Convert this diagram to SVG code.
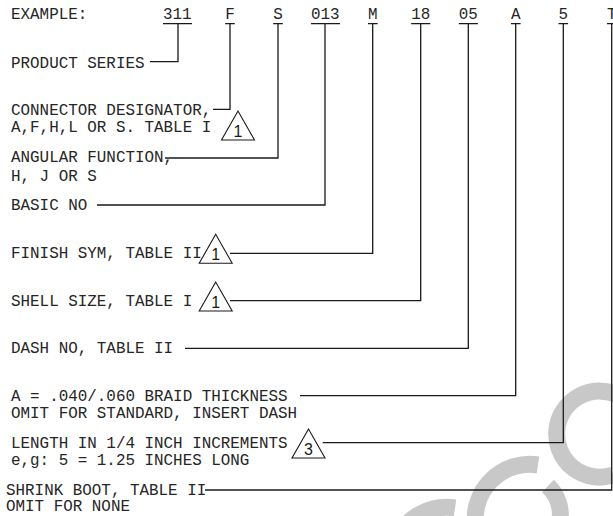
<svg xmlns="http://www.w3.org/2000/svg" width="613" height="516" viewBox="0 0 613 516">
<style>
.t{font-family:"Liberation Mono","DejaVu Sans Mono",monospace;font-size:15.9px;fill:#262626}
.n{font-family:"Liberation Sans",Arial,sans-serif;font-size:16px;fill:#1a1a1a;text-anchor:middle}
.ln{fill:none;stroke:#1a1a1a;stroke-width:1.3}
.tri{fill:#fff;stroke:#1a1a1a;stroke-width:1.1}
.wm{fill:none;stroke:#c8c8c8;stroke-width:17}
</style>
<rect width="613" height="516" fill="#fff"/>
<g id="watermark">
<path class="wm" d="M620.5,396.5 A43,43 0 1 0 613,475"/>
<path class="wm" d="M538,465 A54.5,54.5 0 0 0 476,528"/>
<path class="wm" d="M396,540 A56,56 0 0 1 455,508"/>
<path class="wm" d="M548,486 A40,40 0 0 1 560,520"/>
</g>
<g id="header">
<text class="t" x="11" y="19">EXAMPLE:</text>
<text class="t" x="163" y="19">311</text>
<text class="t" x="225.2" y="19">F</text>
<text class="t" x="273.2" y="19">S</text>
<text class="t" x="311" y="19">013</text>
<text class="t" x="368" y="19">M</text>
<text class="t" x="411.2" y="19">18</text>
<text class="t" x="458.8" y="19">05</text>
<text class="t" x="511" y="19">A</text>
<text class="t" x="558.5" y="19">5</text>
<text class="t" x="607" y="19">T</text>
<path class="ln" d="M163,23.7H192M225.2,23.7H234.8M273.2,23.7H282.8M311,23.7H340M368,23.7H377.6M411.2,23.7H430.3M458.8,23.7H477.9M511,23.7H520.6M558.5,23.7H568.1M607,23.7H616.6"/>
</g>
<g id="product-series">
<text class="t" x="11" y="67.5">PRODUCT SERIES</text>
</g>
<g id="connector-designator">
<text class="t" x="11" y="115">CONNECTOR DESIGNATOR,</text>
<text class="t" x="11" y="132.3">A,F,H,L OR S. TABLE I</text>
<polygon class="tri" points="238,111 221.5,140 254.5,140"/>
<text class="n" x="238" y="136.5">1</text>
</g>
<g id="angular-function">
<text class="t" x="11" y="162.3">ANGULAR FUNCTION,</text>
<text class="t" x="11" y="181">H, J OR S</text>
</g>
<g id="basic-no">
<text class="t" x="11" y="210">BASIC NO</text>
</g>
<g id="finish-sym">
<text class="t" x="11" y="258.3">FINISH SYM, TABLE II</text>
<polygon class="tri" points="215.7,234.3 199.2,263.3 232.2,263.3"/>
<text class="n" x="215.7" y="259.8">1</text>
</g>
<g id="shell-size">
<text class="t" x="11" y="305.5">SHELL SIZE, TABLE I</text>
<polygon class="tri" points="215.7,282 199.2,311 232.2,311"/>
<text class="n" x="215.7" y="307.5">1</text>
</g>
<g id="dash-no">
<text class="t" x="11" y="353">DASH NO, TABLE II</text>
</g>
<g id="braid">
<text class="t" x="11" y="400.5">A = .040/.060 BRAID THICKNESS</text>
<text class="t" x="11" y="418.3">OMIT FOR STANDARD, INSERT DASH</text>
</g>
<g id="length">
<text class="t" x="11" y="448">LENGTH IN 1/4 INCH INCREMENTS</text>
<text class="t" x="11" y="465">e,g: 5 = 1.25 INCHES LONG</text>
<polygon class="tri" points="308.5,429 292,458 325,458"/>
<text class="n" x="308.5" y="454.5">3</text>
</g>
<g id="shrink-boot">
<text class="t" x="6" y="495">SHRINK BOOT, TABLE II</text>
<text class="t" x="6" y="510.5">OMIT FOR NONE</text>
</g>
<g id="connectors">
<path class="ln" d="M150,61.7H178V23.7"/>
<path class="ln" d="M213,109.3H230V23.7"/>
<path class="ln" d="M165,158H278V23.7"/>
<path class="ln" d="M97,205H325V23.7"/>
<path class="ln" d="M230,253.3H372.7V23.7"/>
<path class="ln" d="M230,300.7H420.7V23.7"/>
<path class="ln" d="M185,348.3H468.3V23.7"/>
<path class="ln" d="M300,395.7H515.7V23.7"/>
<path class="ln" d="M322.7,442.7H563.3V23.7"/>
<path class="ln" d="M205,490H611.7V23.7"/>
</g>
</svg>
